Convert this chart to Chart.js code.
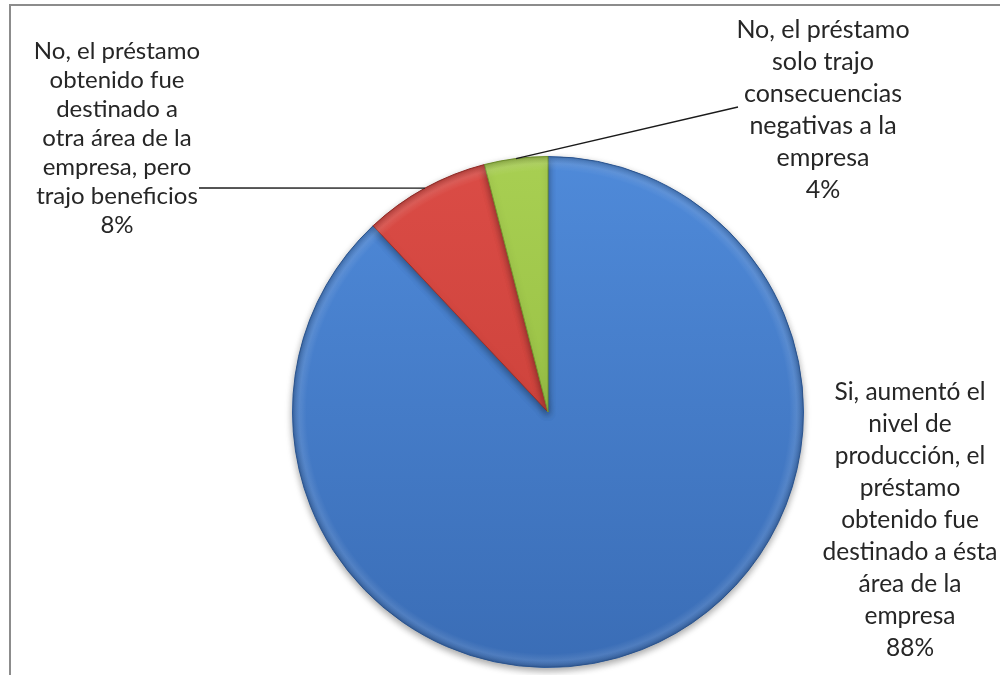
<!DOCTYPE html>
<html lang="es">
<head>
<meta charset="utf-8">
<title>Destino del préstamo</title>
<script src="https://cdn.jsdelivr.net/npm/chart.js@4/dist/chart.umd.min.js"></script>
<style>
  html, body { margin: 0; padding: 0; background: #fff; }
  #wrap { width: 1000px; height: 675px; position: relative; }
</style>
</head>
<body>
<div id="wrap"><canvas id="pie" width="1000" height="675"></canvas></div>
<script>
// --- datos ---
const categorias = [
  'Si, aumentó el nivel de producción, el préstamo obtenido fue destinado a ésta área de la empresa',
  'No, el préstamo obtenido fue destinado a otra área de la empresa, pero trajo beneficios',
  'No, el préstamo solo trajo consecuencias negativas a la empresa'
];
const porcentajes = [88, 8, 4];

// lineas de cada etiqueta (el ultimo renglon es el porcentaje)
const etiquetaLineas = [
  ['Si, aumentó el', 'nivel de', 'producción, el', 'préstamo', 'obtenido fue', 'destinado a ésta', 'área de la', 'empresa'],
  ['No, el préstamo', 'obtenido fue', 'destinado a', 'otra área de la', 'empresa, pero', 'trajo beneficios'],
  ['No, el préstamo', 'solo trajo', 'consecuencias', 'negativas a la', 'empresa']
];

// colores de relleno (arriba / abajo del degradado) y borde
const coloresArriba = ['#4f8ad9', '#db4c46', '#a8cf52'];
const coloresAbajo  = ['#3a6db6', '#c23b33', '#8db53b'];
const coloresBorde  = ['#2f5d9e', '#9e2f2a', '#75982e'];

// ubicacion de los textos y de donde sale la linea guia
const etiquetaPos = [
  { x: 910, y: 392, lh: 32, size: 24.5, guia: null },
  { x: 117, y: 51,  lh: 29, size: 24,   guia: { x: 199, y: 188 } },
  { x: 823, y: 30,  lh: 32, size: 25,   guia: { x: 738, y: 107 } }
];

const fuente = 'Lato, "Open Sans", sans-serif';

function degradado(ctx, area, i) {
  const g = ctx.createLinearGradient(0, area.top, 0, area.bottom);
  g.addColorStop(0, coloresArriba[i]);
  g.addColorStop(1, coloresAbajo[i]);
  return g;
}

// marco gris del grafico
const marco = {
  id: 'marco',
  beforeDraw(chart) {
    const ctx = chart.ctx;
    ctx.save();
    ctx.strokeStyle = '#8c8c8c';
    ctx.lineWidth = 2;
    ctx.beginPath();
    ctx.moveTo(10, 675);
    ctx.lineTo(10, 5);
    ctx.lineTo(1000, 5);
    ctx.stroke();
    ctx.restore();
  }
};

// sombra suave debajo de la torta
const sombra = {
  id: 'sombra',
  beforeDatasetsDraw(chart) {
    const ctx = chart.ctx;
    ctx.save();
    ctx.shadowColor = 'rgba(0,0,0,0.35)';
    ctx.shadowBlur = 7;
    ctx.shadowOffsetY = 3;
  },
  afterDatasetsDraw(chart) {
    chart.ctx.restore();
  }
};

// brillo del bisel en el borde exterior de cada porcion
const bisel = {
  id: 'bisel',
  afterDatasetsDraw(chart) {
    const ctx = chart.ctx;
    chart.getDatasetMeta(0).data.forEach(arc => {
      const p = arc.getProps(['x', 'y', 'startAngle', 'endAngle', 'outerRadius']);
      ctx.save();
      ctx.beginPath();
      ctx.moveTo(p.x, p.y);
      ctx.arc(p.x, p.y, p.outerRadius, p.startAngle, p.endAngle);
      ctx.closePath();
      ctx.clip();
      const g = ctx.createRadialGradient(p.x, p.y, p.outerRadius - 14, p.x, p.y, p.outerRadius);
      g.addColorStop(0, 'rgba(255,255,255,0)');
      g.addColorStop(0.5, 'rgba(255,255,255,0.10)');
      g.addColorStop(1, 'rgba(0,0,0,0.18)');
      ctx.fillStyle = g;
      ctx.fillRect(p.x - p.outerRadius, p.y - p.outerRadius, p.outerRadius * 2, p.outerRadius * 2);
      ctx.restore();
    });
  }
};

// etiquetas con nombre y porcentaje, y lineas guia hacia cada porcion
const etiquetas = {
  id: 'etiquetas',
  afterDraw(chart) {
    const ctx = chart.ctx;
    const arcs = chart.getDatasetMeta(0).data;
    ctx.save();
    arcs.forEach((arc, i) => {
      const pos = etiquetaPos[i];
      if (pos.guia) {
        const p = arc.getProps(['x', 'y', 'startAngle', 'endAngle', 'outerRadius']);
        const mid = (p.startAngle + p.endAngle) / 2;
        ctx.strokeStyle = '#1a1a1a';
        ctx.lineWidth = 1.3;
        ctx.beginPath();
        ctx.moveTo(pos.guia.x, pos.guia.y);
        ctx.lineTo(p.x + Math.cos(mid) * p.outerRadius, p.y + Math.sin(mid) * p.outerRadius);
        ctx.stroke();
      }
      const lineas = etiquetaLineas[i].concat([porcentajes[i] + '%']);
      ctx.fillStyle = '#262626';
      ctx.font = pos.size + 'px ' + fuente;
      ctx.textAlign = 'center';
      ctx.textBaseline = 'middle';
      lineas.forEach((t, k) => ctx.fillText(t, pos.x, pos.y + k * pos.lh));
    });
    ctx.restore();
  }
};

new Chart(document.getElementById('pie'), {
  type: 'pie',
  data: {
    labels: categorias,
    datasets: [{
      data: porcentajes,
      backgroundColor: c => {
        const area = c.chart.chartArea;
        if (!area) return coloresArriba[c.dataIndex];
        return degradado(c.chart.ctx, area, c.dataIndex);
      },
      borderColor: coloresBorde,
      borderWidth: 1
    }]
  },
  options: {
    responsive: false,
    animation: false,
    layout: { padding: { left: 292, right: 196, top: 156, bottom: 7 } },
    plugins: {
      legend: { display: false },
      tooltip: { enabled: false }
    }
  },
  plugins: [marco, sombra, bisel, etiquetas]
});
</script>
</body>
</html>
